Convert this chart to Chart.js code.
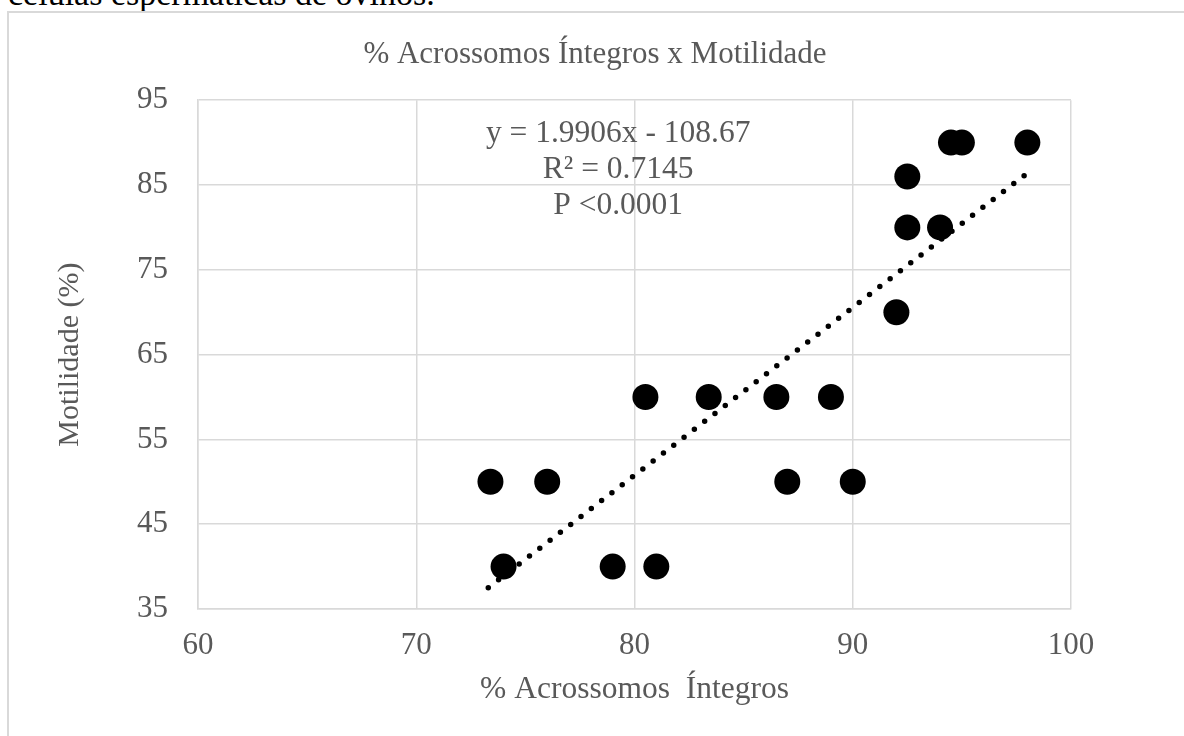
<!DOCTYPE html>
<html>
<head>
<meta charset="utf-8">
<script src="https://cdn.jsdelivr.net/npm/chart.js@4.4.0/dist/chart.umd.min.js"></script>
<style>
    html, body { margin: 0; padding: 0; width: 1184px; height: 736px; overflow: hidden; background: #fff; }
    #caption { position: absolute; left: 8px; top: -23px; font-family: 'Liberation Serif', serif; font-size: 34px; line-height: 34px; color: #000; white-space: nowrap; }
    #frame { position: absolute; left: 7px; top: 11px; width: 1200px; height: 800px; border: 2px solid #d9d9d9; box-sizing: border-box; }
    #wrap { position: absolute; left: 0; top: 0; width: 1184px; height: 736px; }
</style>
</head>
<body>
<div id="caption">células espermáticas de ovinos.</div>
<div id="frame"></div>
<div id="wrap"><canvas id="chart"></canvas></div>
<script>
// % acrossomos integros (x) vs motilidade (y)
const acrossomos = [73.4, 74, 76, 79, 80.5, 81, 83.4, 86.5, 87, 89, 90, 92, 92.5, 92.5, 94, 94.5, 95, 98];
const motilidade = [50, 40, 50, 40, 60, 40, 60, 60, 50, 60, 50, 70, 80, 86, 80, 90, 90, 90];

// trendline end points
const trendX = [73.3, 97.9];
const trendY = [37.5, 86.2];

const eqnLines = ['y = 1.9906x - 108.67', 'R\u00b2 = 0.7145', 'P <0.0001'];
const chartTitle = '% Acrossomos \u00cdntegros x Motilidade';
const xTitle = '% Acrossomos  \u00cdntegros';
const yTitle = 'Motilidade (%)';

const grey = '#595959';
const gridGrey = '#d9d9d9';
const serif = "'Liberation Serif', 'Times New Roman', serif";

const points = acrossomos.map((v, i) => ({ x: v, y: motilidade[i] }));
const trend = trendX.map((v, i) => ({ x: v, y: trendY[i] }));

// equation / R² / P text box
const notes = {
    id: 'notes',
    afterDatasetsDraw(chart) {
        const { ctx, scales } = chart;
        ctx.save();
        ctx.fillStyle = grey;
        ctx.textAlign = 'center';
        ctx.textBaseline = 'middle';
        ctx.font = '31.5px ' + serif;
        const ex = scales.x.getPixelForValue(79.25);
        const ey = scales.y.getPixelForValue(91.1);
        eqnLines.forEach((t, i) => ctx.fillText(t, ex, ey + i * 36));
        ctx.restore();
    }
};

new Chart(document.getElementById('chart'), {
    type: 'scatter',
    data: {
        datasets: [{
            label: 'Motilidade',
            data: points,
            backgroundColor: '#000',
            borderWidth: 0,
            pointRadius: 13,
            pointHoverRadius: 13
        }, {
            type: 'line',
            label: 'Linear',
            data: trend,
            borderColor: '#000',
            borderWidth: 5.5,
            borderDash: [0, 13],
            borderCapStyle: 'round',
            pointRadius: 0,
            fill: false
        }]
    },
    options: {
        responsive: true,
        maintainAspectRatio: false,
        animation: false,
        layout: { padding: { left: 6, right: 0, top: 0, bottom: 0 } },
        plugins: {
            legend: { display: false },
            tooltip: { enabled: false },
            title: {
                display: true,
                text: chartTitle,
                color: grey,
                font: { family: serif, size: 31, weight: 'normal' },
                padding: { top: 36, bottom: 27 }
            }
        },
        scales: {
            x: {
                type: 'linear',
                min: 60,
                max: 100,
                ticks: { stepSize: 10, color: grey, padding: 18, font: { family: serif, size: 31 } },
                grid: { color: gridGrey, lineWidth: 1.5, drawTicks: false },
                border: { color: gridGrey, width: 1.5 },
                title: {
                    display: true,
                    text: xTitle,
                    color: grey,
                    font: { family: serif, size: 31.5 },
                    padding: { top: 0, bottom: 27 }
                },
                afterFit(scale) { scale.height = 127; }
            },
            y: {
                min: 35,
                max: 95,
                ticks: { stepSize: 10, color: grey, padding: 30, font: { family: serif, size: 31 } },
                grid: { color: gridGrey, lineWidth: 1.5, drawTicks: false },
                border: { color: gridGrey, width: 1.5 },
                title: {
                    display: true,
                    text: yTitle,
                    color: grey,
                    font: { family: serif, size: 30 },
                    padding: { top: 46, bottom: 46 }
                },
                afterFit(scale) { scale.width = 192; }
            },
            spacer: {
                type: 'linear',
                position: 'right',
                display: true,
                ticks: { display: false },
                grid: { display: false },
                border: { display: false },
                afterFit(scale) { scale.width = 113; }
            }
        }
    },
    plugins: [notes]
});
</script>
</body>
</html>
